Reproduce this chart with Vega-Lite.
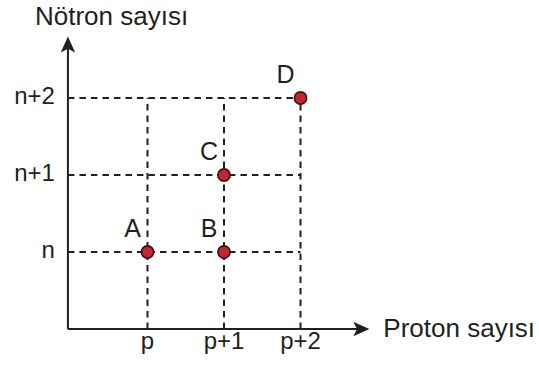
{
  "$schema": "https://vega.github.io/schema/vega-lite/v6.json",
  "width": 539,
  "height": 365,
  "autosize": "none",
  "padding": 0,
  "background": "white",
  "config": {"view": {"stroke": null}, "text": {"font": "Liberation Sans", "color": "#231f20"}},
  "datasets": {
    "grid": [
      {"x": 1, "x2": 1, "y": 0, "y2": 3},
      {"x": 2, "x2": 2, "y": 0, "y2": 3},
      {"x": 3, "x2": 3, "y": 0, "y2": 3},
      {"x": -0.04, "x2": 3, "y": 1, "y2": 1},
      {"x": -0.04, "x2": 3, "y": 2, "y2": 2},
      {"x": -0.04, "x2": 3, "y": 3, "y2": 3}
    ],
    "axes": [
      {"x": -0.04, "x2": 3.8, "y": 0, "y2": 0},
      {"x": -0.04, "x2": -0.04, "y": 0, "y2": 3.72}
    ],
    "points": [
      {"x": 1, "y": 1, "label": "A"},
      {"x": 2, "y": 1, "label": "B"},
      {"x": 2, "y": 2, "label": "C"},
      {"x": 3, "y": 3, "label": "D"}
    ],
    "xticks": [
      {"x": 1, "y": 0, "label": "p"},
      {"x": 2, "y": 0, "label": "p+1"},
      {"x": 3, "y": 0, "label": "p+2"}
    ],
    "yticks": [
      {"x": -0.04, "y": 1, "label": "n"},
      {"x": -0.04, "y": 2, "label": "n+1"},
      {"x": -0.04, "y": 3, "label": "n+2"}
    ]
  },
  "encoding": {
    "x": {"field": "x", "type": "quantitative", "axis": null, "scale": {"domain": [0, 4], "range": [71, 377], "nice": false, "zero": false}},
    "y": {"field": "y", "type": "quantitative", "axis": null, "scale": {"domain": [0, 4], "range": [329, 21], "nice": false, "zero": false}}
  },
  "layer": [
    {
      "data": {"name": "grid"},
      "mark": {"type": "rule", "stroke": "#231f20", "strokeWidth": 2, "strokeDash": [6.5, 5]},
      "encoding": {"x2": {"field": "x2"}, "y2": {"field": "y2"}}
    },
    {
      "data": {"name": "axes"},
      "mark": {"type": "rule", "stroke": "#231f20", "strokeWidth": 2},
      "encoding": {"x2": {"field": "x2"}, "y2": {"field": "y2"}}
    },
    {
      "data": {"values": [{"x": 3.9, "y": 0}]},
      "mark": {"type": "point", "filled": true, "fill": "#231f20", "stroke": null, "opacity": 1, "size": 114, "shape": "M0,0 L-3,-1.35 L-2.3,0 L-3,1.35 Z"}
    },
    {
      "data": {"values": [{"x": -0.04, "y": 3.8}]},
      "mark": {"type": "point", "filled": true, "fill": "#231f20", "stroke": null, "opacity": 1, "size": 114, "shape": "M0,0 L-1.35,3 L0,2.3 L1.35,3 Z"}
    },
    {
      "data": {"name": "points"},
      "mark": {"type": "point", "shape": "circle", "filled": true, "fill": "#c1272d", "stroke": "#3a1315", "strokeWidth": 1.6, "opacity": 1, "size": 150}
    },
    {
      "data": {"name": "points"},
      "mark": {"type": "text", "fontSize": 25, "align": "center", "baseline": "alphabetic", "dx": -15, "dy": -15},
      "encoding": {"text": {"field": "label"}}
    },
    {
      "data": {"name": "xticks"},
      "mark": {"type": "text", "fontSize": 24, "align": "center", "baseline": "alphabetic", "dy": 20},
      "encoding": {"text": {"field": "label"}}
    },
    {
      "data": {"name": "yticks"},
      "mark": {"type": "text", "fontSize": 24, "align": "right", "baseline": "alphabetic", "dx": -13, "dy": 6},
      "encoding": {"text": {"field": "label"}}
    },
    {
      "data": {"values": [{"x": -0.04, "y": 3.8, "label": "Nötron sayısı"}]},
      "mark": {"type": "text", "fontSize": 26, "align": "left", "baseline": "alphabetic", "dx": -33, "dy": -11},
      "encoding": {"text": {"field": "label"}}
    },
    {
      "data": {"values": [{"x": 3.9, "y": 0, "label": "Proton sayısı"}]},
      "mark": {"type": "text", "fontSize": 26, "align": "left", "baseline": "alphabetic", "dx": 14, "dy": 8},
      "encoding": {"text": {"field": "label"}}
    }
  ]
}
